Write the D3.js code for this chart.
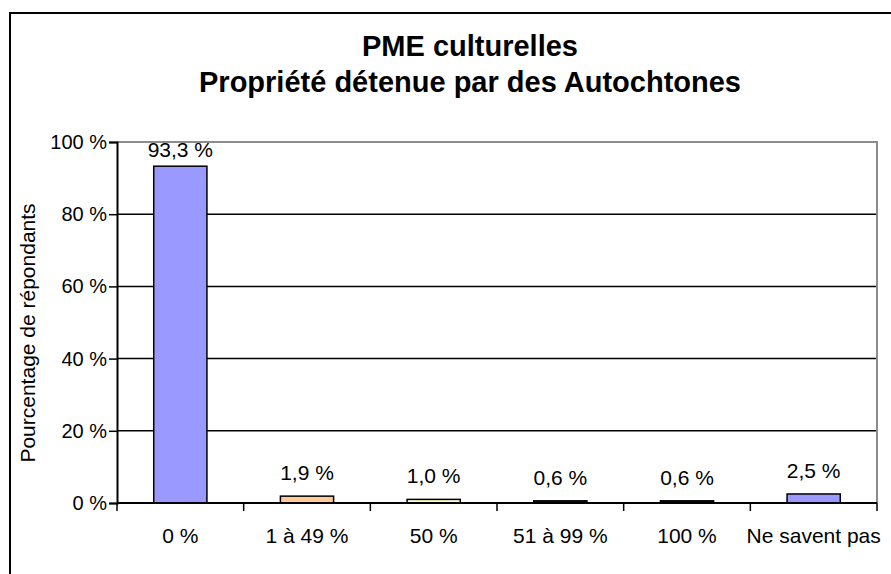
<!DOCTYPE html>
<html>
<head>
<meta charset="utf-8">
<script src="https://cdn.jsdelivr.net/npm/d3@7"></script>
<style>
  html, body { margin: 0; padding: 0; background: #fff; }
  svg { display: block; font-family: Arial, "Liberation Sans", sans-serif; }
</style>
</head>
<body>
<svg id="chart" width="891" height="574"></svg>
<script>
const categories = ["0 %", "1 à 49 %", "50 %", "51 à 99 %", "100 %", "Ne savent pas"];
const values = [93.3, 1.9, 1.0, 0.6, 0.6, 2.5];
const valueLabels = ["93,3 %", "1,9 %", "1,0 %", "0,6 %", "0,6 %", "2,5 %"];
const barColors = ["#9999FF", "#FFCC99", "#FFFFCC", "#1a1a33", "#1a0a1a", "#9999FF"];
const yTicks = [0, 20, 40, 60, 80, 100];
const titleLines = ["PME culturelles", "Propriété détenue par des Autochtones"];
const yTitle = "Pourcentage de répondants";

const svg = d3.select("#chart");
const plot = { left: 117, right: 877, top: 142, bottom: 503 };

// outer frame
svg.append("rect")
  .attr("x", 10).attr("y", 13).attr("width", 900).attr("height", 600)
  .attr("fill", "none").attr("stroke", "#000").attr("stroke-width", 2);

const x = d3.scaleBand().domain(categories)
  .range([plot.left, plot.right]).paddingInner(0.58).paddingOuter(0.29);
const y = d3.scaleLinear().domain([0, 100]).range([plot.bottom, plot.top]);

// gridlines
svg.append("g").selectAll("line").data(yTicks.filter(t => t > 0 && t < 100)).join("line")
  .attr("x1", plot.left).attr("x2", plot.right)
  .attr("y1", d => y(d)).attr("y2", d => y(d))
  .attr("stroke", "#000").attr("stroke-width", 1.5);

// plot border top/right (gray)
svg.append("path")
  .attr("d", `M${plot.left},${y(100)}H${plot.right}V${y(0)}`)
  .attr("fill", "none").attr("stroke", "#8c8c8c").attr("stroke-width", 2);

// bars
svg.append("g").selectAll("rect").data(values).join("rect")
  .attr("x", (d, i) => x(categories[i]))
  .attr("width", x.bandwidth())
  .attr("y", d => y(d))
  .attr("height", d => y(0) - y(d))
  .attr("fill", (d, i) => barColors[i])
  .attr("stroke", "#000").attr("stroke-width", 1.5);

// value labels
svg.append("g").selectAll("text").data(values).join("text")
  .attr("x", (d, i) => x(categories[i]) + x.bandwidth() / 2)
  .attr("y", d => Math.max(y(d) - 16, y(100) + 15))
  .attr("text-anchor", "middle")
  .attr("font-size", 21)
  .attr("fill", "#000")
  .text((d, i) => valueLabels[i]);

// y axis
const yAxis = svg.append("g").attr("transform", `translate(${plot.left},0)`)
  .call(d3.axisLeft(y).tickValues(yTicks).tickSize(8).tickPadding(2).tickFormat(d => d + " %"));
yAxis.select(".domain").attr("stroke", "#000").attr("stroke-width", 2);
yAxis.selectAll(".tick line").attr("stroke", "#000").attr("stroke-width", 1.5);
yAxis.selectAll(".tick text").attr("font-size", 20).attr("fill", "#000")
  .attr("font-family", "Arial, 'Liberation Sans', sans-serif");

// x axis baseline and ticks at category boundaries
const boundaries = d3.range(categories.length + 1).map(i => x.range()[0] + i * x.step());
svg.append("line")
  .attr("x1", plot.left).attr("x2", plot.right)
  .attr("y1", y(0)).attr("y2", y(0))
  .attr("stroke", "#000").attr("stroke-width", 2);
svg.append("g").selectAll("line").data(boundaries).join("line")
  .attr("x1", d => d).attr("x2", d => d)
  .attr("y1", y(0)).attr("y2", y(0) + 8)
  .attr("stroke", "#000").attr("stroke-width", 1.5);
svg.append("g").selectAll("text").data(categories).join("text")
  .attr("x", d => x(d) + x.bandwidth() / 2)
  .attr("y", 543)
  .attr("text-anchor", "middle")
  .attr("font-size", 21)
  .attr("fill", "#000")
  .text(d => d);

// y title
svg.append("text")
  .attr("transform", `translate(35,333) rotate(-90)`)
  .attr("text-anchor", "middle")
  .attr("font-size", 21)
  .attr("fill", "#000")
  .text(yTitle);

// title
svg.append("g").selectAll("text").data(titleLines).join("text")
  .attr("x", 470)
  .attr("y", (d, i) => 56 + i * 36)
  .attr("text-anchor", "middle")
  .attr("font-size", 29)
  .attr("font-weight", "bold")
  .attr("fill", "#000")
  .text(d => d);
</script>
</body>
</html>
